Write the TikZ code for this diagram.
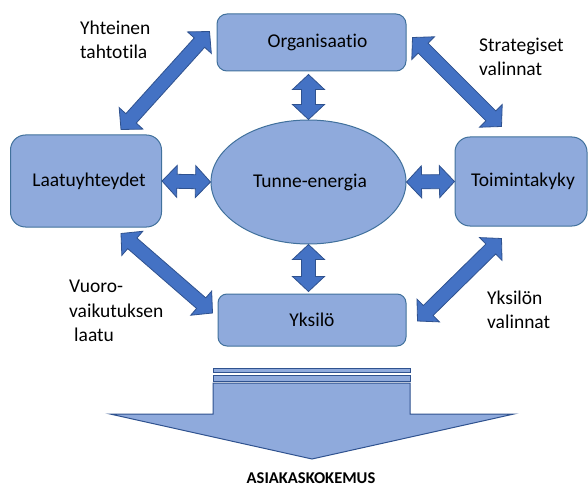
\documentclass[tikz,border=0pt]{standalone}
\usepackage{fontspec}
\setmainfont[Ligatures=NoCommon]{Carlito}
\usetikzlibrary{calc,shapes.geometric}

\definecolor{boxfill}{HTML}{8FAADC}
\definecolor{boxline}{HTML}{41719C}
\definecolor{arrowfill}{HTML}{4472C4}
\definecolor{arrowline}{HTML}{2F528F}

\newcommand\lbl{\fontsize{19.5}{24.5}\selectfont}

% double-headed block arrow between two points
\newcommand\blockarrow[2]{%
  \path[blockarrowstyle] (#1)
    -- ($(#1)!15pt!(#2)!16pt!90:(#2)$)
    -- ($(#1)!15pt!(#2)!7pt!90:(#2)$)
    -- ($(#2)!15pt!(#1)!7pt!-90:(#1)$)
    -- ($(#2)!15pt!(#1)!16pt!-90:(#1)$)
    -- (#2)
    -- ($(#2)!15pt!(#1)!16pt!90:(#1)$)
    -- ($(#2)!15pt!(#1)!7pt!90:(#1)$)
    -- ($(#1)!15pt!(#2)!7pt!-90:(#2)$)
    -- ($(#1)!15pt!(#2)!16pt!-90:(#2)$)
    -- cycle;}

\tikzset{
  box/.style={draw=boxline, fill=boxfill, line width=1pt,
    rounded corners=#1, inner sep=0pt, font=\lbl, text=black},
  hub/.style={ellipse, draw=boxline, fill=boxfill, line width=1pt,
    inner sep=0pt, font=\lbl, text=black},
  blockarrowstyle/.style={draw=arrowline, fill=arrowfill, line width=0.8pt,
    line join=miter},
  bigarrow/.style={draw=arrowline, fill=boxfill, line width=1pt},
  note/.style={font=\lbl, align=left, anchor=west, inner sep=0pt}
}

\begin{document}
\begin{tikzpicture}[x=1pt, y=-1pt]
  \useasboundingbox (0,0) rectangle (588,489);

  % boxes and the central ellipse
  \node[box=10, minimum width=189, minimum height=57] (org) at (311.5,42.5)
    {\hspace*{12pt}Organisaatio};
  \node[box=15, minimum width=151, minimum height=92] (laatu) at (86,181)
    {\hspace*{6pt}Laatuyhteydet};
  \node[box=15, minimum width=132, minimum height=89] (toim) at (521,181.5)
    {\hspace*{4pt}Toimintakyky};
  \node[box=9, minimum width=188, minimum height=52] (yks) at (312,320)
    {Yksilö};
  \node[hub, minimum width=195, minimum height=124] (tunne) at (308.5,182)
    {\hspace*{3pt}Tunne-energia};

  % end points of the diagonal arrows
  \coordinate (tlA) at ($(laatu.north east)+(-41,-5)$);
  \coordinate (tlB) at ($(org.west)+(-7,-11)$);
  \coordinate (trA) at ($(org.east)+(6,-5)$);
  \coordinate (trB) at ($(toim.north west)+(47,-10)$);
  \coordinate (blA) at ($(laatu.south east)+(-41,6)$);
  \coordinate (blB) at ($(yks.west)+(-5,-7)$);
  \coordinate (brA) at ($(toim.south west)+(47,12)$);
  \coordinate (brB) at ($(yks.east)+(11,1)$);
  \coordinate (vtA) at ($(org.south -| tunne.north)+(0,3)$);
  \coordinate (vbB) at ($(yks.north -| tunne.south)+(0,-2)$);

  % connecting arrows
  \blockarrow{tlA}{tlB}
  \blockarrow{trA}{trB}
  \blockarrow{blA}{blB}
  \blockarrow{brA}{brB}
  \blockarrow{laatu.east}{tunne.west}
  \blockarrow{tunne.east}{toim.west}
  \blockarrow{vtA}{tunne.north}
  \blockarrow{tunne.south}{vbB}

  % labels beside the arrows
  \node[note] (l1) at (80,40) {Yhteinen\\tahtotila};
  \node[note] (l2) at (479,57) {Strategiset\\valinnat};
  \node[note] (l3) at (69,311) {Vuoro-\\vaikutuksen\\\hspace*{5pt}laatu};
  \node[note] (l4) at (487,310) {Yksilön\\valinnat};

  % downward arrow towards the outcome
  \path[bigarrow] (213,368) rectangle (410,372);
  \path[bigarrow] (213,375) rectangle (410,381);
  \path[bigarrow] (213,383) -- (410,383) -- (410,414) -- (514,414)
    -- (312,459) -- (110,414) -- (213,414) -- cycle;
  \node[font=\fontsize{16.5}{19}\selectfont\bfseries, inner sep=0pt]
    (out) at (311,478) {ASIAKASKOKEMUS};
\end{tikzpicture}
\end{document}
